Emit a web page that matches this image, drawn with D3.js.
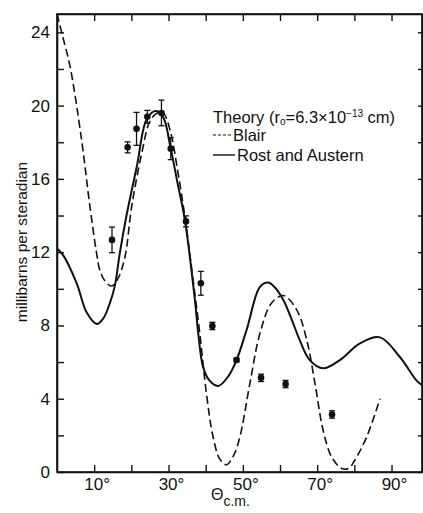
<!DOCTYPE html>
<html>
<head>
<meta charset="utf-8">
<script src="https://cdn.jsdelivr.net/npm/d3@7"></script>
<style>
  body { margin: 0; background: #fff; }
  text { font-family: "Liberation Sans", Arial, sans-serif; fill: #111; }
</style>
</head>
<body>
<div id="chart"></div>
<script>
// chart size
var svgWidth = 423;
var svgHeight = 513;

var margin = { top: 14, right: 1, bottom: 41, left: 57 };
var width = svgWidth - margin.left - margin.right;
var height = svgHeight - margin.top - margin.bottom;

// Blair theory (dashed)
var blairTheta = [0, 1.5, 3.5, 6.6, 8.85, 10.65, 11.5, 13, 14.7, 16.5, 18.3, 20.1, 22.8, 25, 27, 28.6, 30.5, 32.5, 34.4, 36.6, 38.4, 40.2, 42, 43.8, 45.6, 47.5, 49.2, 51.9, 54.6, 57.7, 60.9, 64.5, 67.2, 69.4, 71.6, 73.9, 76.6, 78.5, 80.1, 83.3, 86.9];
var blairValue = [25, 23.8, 22.15, 18.15, 14.5, 11.95, 11.03, 10.4, 10.15, 10.6, 11.76, 14.5, 17.4, 19.15, 19.6, 19.6, 18.6, 16.4, 13.95, 10.5, 7.6, 4.29, 1.91, 0.7, 0.4, 0.9, 1.91, 4.84, 7.57, 9.21, 9.63, 8.85, 7.2, 4.84, 2.28, 0.82, 0.19, 0.2, 0.64, 1.91, 4.0];

// Rost and Austern theory (solid)
var rostTheta = [0, 1.6, 5.3, 8, 10.7, 12.5, 14.2, 15.6, 16.9, 18.7, 21.5, 24.1, 26.5, 28.5, 30.6, 32.5, 34.4, 37.1, 38.0, 39.3, 41, 43.4, 46, 48.3, 51, 54.6, 56.8, 58.5, 60.9, 63, 65.3, 68, 71.6, 76.1, 81.5, 86.9, 92.2, 96.7, 98.2];
var rostValue = [12.2, 11.85, 10.3, 8.7, 8.08, 8.4, 9.2, 10.2, 11.95, 14.0, 16.7, 19.24, 19.7, 19.4, 17.65, 15.7, 13.76, 9.39, 7.57, 5.74, 5.0, 4.7, 5.2, 6.11, 7.75, 10.1, 10.34, 10.1, 9.39, 8.4, 7.2, 6.11, 5.66, 6.11, 7.02, 7.35, 6.29, 5.0, 4.74];

// measured points with error bars
var dataTheta = [14.8, 19.0, 21.4, 24.3, 28.1, 30.6, 34.7, 38.7, 41.8, 48.3, 54.9, 61.5, 74.0];
var dataValue = [12.67, 17.72, 18.73, 19.39, 19.6, 17.65, 13.68, 10.3, 7.97, 6.11, 5.14, 4.8, 3.14];
var dataError = [0.7, 0.3, 0.9, 0.35, 0.7, 0.6, 0.3, 0.65, 0.2, 0.1, 0.2, 0.2, 0.2];

// ticks
var xTicks = [10, 20, 30, 40, 50, 60, 70, 80, 90];
var xLabels = [10, 30, 50, 70, 90];
var yTicks = [0, 2, 4, 6, 8, 10, 12, 14, 16, 18, 20, 22, 24];
var yLabels = [0, 4, 8, 12, 16, 20, 24];

var svg = d3.select("#chart")
    .append("svg")
    .attr("width", svgWidth)
    .attr("height", svgHeight);

var chartGroup = svg.append("g")
    .attr("transform", `translate(${margin.left}, ${margin.top})`);

var xScale = d3.scaleLinear().domain([0, 98.2]).range([0, width]);
var yScale = d3.scaleLinear().domain([0, 25]).range([height, 0]);

// axes, ticks pointing inward, labels drawn separately
var tickLen = 7;
chartGroup.append("g")
    .attr("transform", `translate(0, ${height})`)
    .call(d3.axisBottom(xScale).tickValues(xTicks).tickSizeInner(-tickLen).tickSizeOuter(0).tickFormat(""));
chartGroup.append("g")
    .call(d3.axisTop(xScale).tickValues(xTicks).tickSizeInner(-tickLen).tickSizeOuter(0).tickFormat(""));
chartGroup.append("g")
    .call(d3.axisLeft(yScale).tickValues(yTicks).tickSizeInner(-tickLen).tickSizeOuter(0).tickFormat(""));
chartGroup.append("g")
    .attr("transform", `translate(${width}, 0)`)
    .call(d3.axisRight(yScale).tickValues(yTicks).tickSizeInner(-4).tickSizeOuter(0).tickFormat(""));

chartGroup.selectAll(".domain").attr("stroke", "#111").attr("stroke-width", 1.6);
chartGroup.selectAll(".tick line").attr("stroke", "#111").attr("stroke-width", 1.4);

chartGroup.append("rect")
    .attr("width", width)
    .attr("height", height)
    .attr("fill", "none")
    .attr("stroke", "#111")
    .attr("stroke-width", 1.6);

// tick labels
chartGroup.selectAll(".ylab").data(yLabels)
    .enter()
    .append("text")
    .attr("x", -7)
    .attr("y", d => yScale(d) + 6)
    .attr("text-anchor", "end")
    .attr("font-size", 17)
    .text(d => d);

chartGroup.selectAll(".xlab").data(xLabels)
    .enter()
    .append("text")
    .attr("x", d => xScale(d) + 3)
    .attr("y", height + 18)
    .attr("text-anchor", "middle")
    .attr("font-size", 17)
    .text(d => d + "°");

// theory curves
var theoryLine = d3.line()
    .x(d => xScale(d[0]))
    .y(d => yScale(d[1]))
    .curve(d3.curveCatmullRom);

chartGroup.append("path")
    .datum(d3.zip(blairTheta, blairValue))
    .attr("d", theoryLine)
    .attr("fill", "none")
    .attr("stroke", "#111")
    .attr("stroke-width", 1.6)
    .attr("stroke-dasharray", "8,4");

chartGroup.append("path")
    .datum(d3.zip(rostTheta, rostValue))
    .attr("d", theoryLine)
    .attr("fill", "none")
    .attr("stroke", "#111")
    .attr("stroke-width", 2);

// data points
var points = d3.zip(dataTheta, dataValue, dataError);
var pts = chartGroup.append("g").selectAll("g")
    .data(points)
    .enter()
    .append("g");

pts.append("line")
    .attr("x1", d => xScale(d[0]))
    .attr("x2", d => xScale(d[0]))
    .attr("y1", d => yScale(d[1] + d[2]))
    .attr("y2", d => yScale(d[1] - d[2]))
    .attr("stroke", "#111")
    .attr("stroke-width", 1.3);
pts.append("line")
    .attr("x1", d => xScale(d[0]) - 3)
    .attr("x2", d => xScale(d[0]) + 3)
    .attr("y1", d => yScale(d[1] + d[2]))
    .attr("y2", d => yScale(d[1] + d[2]))
    .attr("stroke", "#111")
    .attr("stroke-width", 1.3);
pts.append("line")
    .attr("x1", d => xScale(d[0]) - 3)
    .attr("x2", d => xScale(d[0]) + 3)
    .attr("y1", d => yScale(d[1] - d[2]))
    .attr("y2", d => yScale(d[1] - d[2]))
    .attr("stroke", "#111")
    .attr("stroke-width", 1.3);
pts.append("circle")
    .attr("cx", d => xScale(d[0]))
    .attr("cy", d => yScale(d[1]))
    .attr("r", 3.3)
    .attr("fill", "#111");

// legend
var legend = svg.append("g").attr("font-size", 16.5);
var t1 = legend.append("text").attr("x", 213).attr("y", 123);
t1.append("tspan").text("Theory (r");
t1.append("tspan").attr("font-size", 10).attr("dy", 2).text("o");
t1.append("tspan").attr("dy", -2).text("=6.3×10");
t1.append("tspan").attr("font-size", 10).attr("dy", -6).text("−13");
t1.append("tspan").attr("dy", 6).text(" cm)");

legend.append("line")
    .attr("x1", 213).attr("x2", 232)
    .attr("y1", 135).attr("y2", 135)
    .attr("stroke", "#111").attr("stroke-width", 1.2)
    .attr("stroke-dasharray", "3,2");
legend.append("text").attr("x", 233).attr("y", 141).text("Blair");

legend.append("line")
    .attr("x1", 213).attr("x2", 235)
    .attr("y1", 155).attr("y2", 155)
    .attr("stroke", "#111").attr("stroke-width", 1.4);
legend.append("text").attr("x", 237).attr("y", 161).text("Rost and Austern");

// axis titles
svg.append("text")
    .attr("transform", "translate(27, 242) rotate(-90)")
    .attr("text-anchor", "middle")
    .attr("font-size", 15.5)
    .text("millibarns per steradian");

var xt = svg.append("text")
    .attr("x", 211)
    .attr("y", 500)
    .attr("font-size", 16);
xt.append("tspan").text("Θ");
xt.append("tspan").attr("dy", 6).attr("font-size", 14).text("c.m.");
</script>
</body>
</html>
